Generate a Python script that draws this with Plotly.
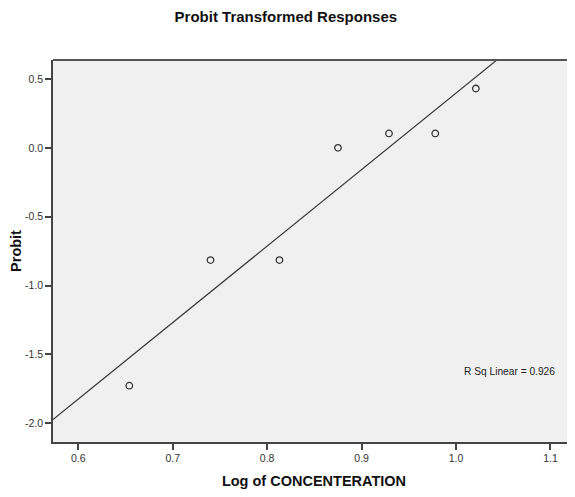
import numpy as np
import plotly.graph_objects as go

log_conc = [0.654, 0.740, 0.813, 0.875, 0.929, 0.978, 1.021]
probit = [-1.727, -0.815, -0.815, 0.0, 0.105, 0.105, 0.431]
x_ticks = [0.6, 0.7, 0.8, 0.9, 1.0, 1.1]
y_ticks = [-2.0, -1.5, -1.0, -0.5, 0.0, 0.5]
x_range = [0.5732, 1.126]
y_range = [-2.136, 0.638]

slope, intercept = np.polyfit(log_conc, probit, 1)
line_x = np.array(x_range)
line_y = slope * line_x + intercept

fig = go.Figure()
fig.add_trace(go.Scatter(x=line_x, y=line_y, mode="lines",
                         line=dict(color="#3a3a3a", width=1.2), hoverinfo="skip"))
fig.add_trace(go.Scatter(x=log_conc, y=probit, mode="markers",
                         marker=dict(symbol="circle-open", size=6.5, color="#333333",
                                     line=dict(width=1.3, color="#333333"))))

fig.add_annotation(x=1.107, y=-1.622, text="R Sq Linear = %.3f" % 0.926, showarrow=False,
                   xanchor="right", yanchor="middle",
                   font=dict(family="Liberation Sans, Arial", size=10.2, color="#222222"))

fig.update_layout(
    width=567, height=481,
    margin=dict(l=45, r=0, t=52, b=47),
    paper_bgcolor="white", plot_bgcolor="#f0f0f0",
    showlegend=False,
    title=dict(text="<b>Probit Transformed Responses</b>", x=0.490, xanchor="center",
               y=1 - 9 / 481, yanchor="middle",
               font=dict(family="Liberation Sans, Arial", size=15, color="#111111")),
    font=dict(family="Liberation Sans, Arial", color="#333333"),
)
fig.update_xaxes(range=x_range, tickvals=x_ticks, ticktext=["%.1f" % v for v in x_ticks],
                 showgrid=False, zeroline=False, showline=True, linecolor="#444444", linewidth=1.5,
                 mirror=False, ticks="outside", ticklen=6, tickwidth=1.5, tickcolor="#444444",
                 tickfont=dict(size=10.5, color="#333333"),
                 title=dict(text="<b>Log of CONCENTERATION</b>", standoff=13,
                            font=dict(size=14.5, color="#111111")))
fig.update_yaxes(range=y_range, tickvals=y_ticks, ticktext=["%.1f" % v for v in y_ticks],
                 showgrid=False, zeroline=False, showline=True, linecolor="#444444", linewidth=1.5,
                 mirror=False, ticks="outside", ticklen=6, tickwidth=1.5, tickcolor="#444444",
                 tickfont=dict(size=10.5, color="#333333"),
                 title=dict(text="<b>Probit</b>", standoff=4,
                            font=dict(size=14.5, color="#111111")))
fig.add_shape(type="line", xref="paper", yref="paper", x0=0, x1=1, y0=1, y1=1,
              line=dict(color="#555555", width=2))

fig.write_html("out.html")
